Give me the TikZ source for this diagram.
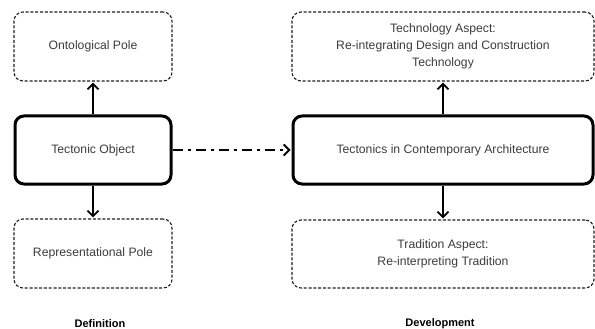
\documentclass[tikz,border=0pt]{standalone}
\usepackage{fontspec}
\setmainfont{Liberation Sans}
\usetikzlibrary{arrows.meta}
\definecolor{color_text}{HTML}{3C3C3C}
\definecolor{color_pole_line}{HTML}{1E1E1E}
\definecolor{color_core_line}{HTML}{000000}
\def\boxcornerradius{9pt}
\def\boxtextsize{\fontsize{12.2}{17}\selectfont}
\def\columnlabelsize{\fontsize{11}{12}\selectfont}

\begin{document}
\begin{tikzpicture}[x=1pt,y=-1pt,
        pole/.style={draw=color_pole_line, line width=1.1pt, dash pattern=on 3pt off 1.8pt,
            rounded corners=\boxcornerradius, align=center, text=color_text, font=\boxtextsize},
        core/.style={draw=color_core_line, line width=3pt,
            rounded corners=\boxcornerradius, align=center, text=color_text, font=\boxtextsize},
        link/.style={line width=1.8pt, -{Straight Barb[length=5.5pt,width=11pt,line width=1.8pt]}, shorten >=1pt},
        columnlabel/.style={font=\bfseries\columnlabelsize, text=black}]
        \useasboundingbox (0,0) rectangle (595,329);
        % definition side
        \node[pole, minimum width=158pt, minimum height=69pt] (ontological) at (93,46.5) {Ontological Pole};
        \node[core, minimum width=156pt, minimum height=68pt] (tectonicobject) at (93,150) {Tectonic Object};
        \node[pole, minimum width=158pt, minimum height=69pt] (representational) at (93,253.5) {Representational Pole};
        % development side
        \node[pole, minimum width=302pt, minimum height=69pt] (technology) at (443,46.5)
            {Technology Aspect:\\Re-integrating Design and Construction\\Technology};
        \node[core, minimum width=300pt, minimum height=68pt] (contemporary) at (443,150)
            {Tectonics in Contemporary Architecture};
        \node[pole, minimum width=302pt, minimum height=68pt] (tradition) at (443,254)
            {Tradition Aspect:\\Re-interpreting Tradition};
        % connectors
        \draw[link] (tectonicobject.north) -- (ontological.south);
        \draw[link] (tectonicobject.south) -- (representational.north);
        \draw[link] (contemporary.north) -- (technology.south);
        \draw[link] (contemporary.south) -- (tradition.north);
        \draw[link, dash pattern=on 10pt off 5pt on 3pt off 5pt] (tectonicobject.east) -- (contemporary.west);
        % column labels
        \node[columnlabel] (definition) at (100,324) {Definition};
        \node[columnlabel] (development) at (440,324) {Development};
    \end{tikzpicture}
\end{document}
